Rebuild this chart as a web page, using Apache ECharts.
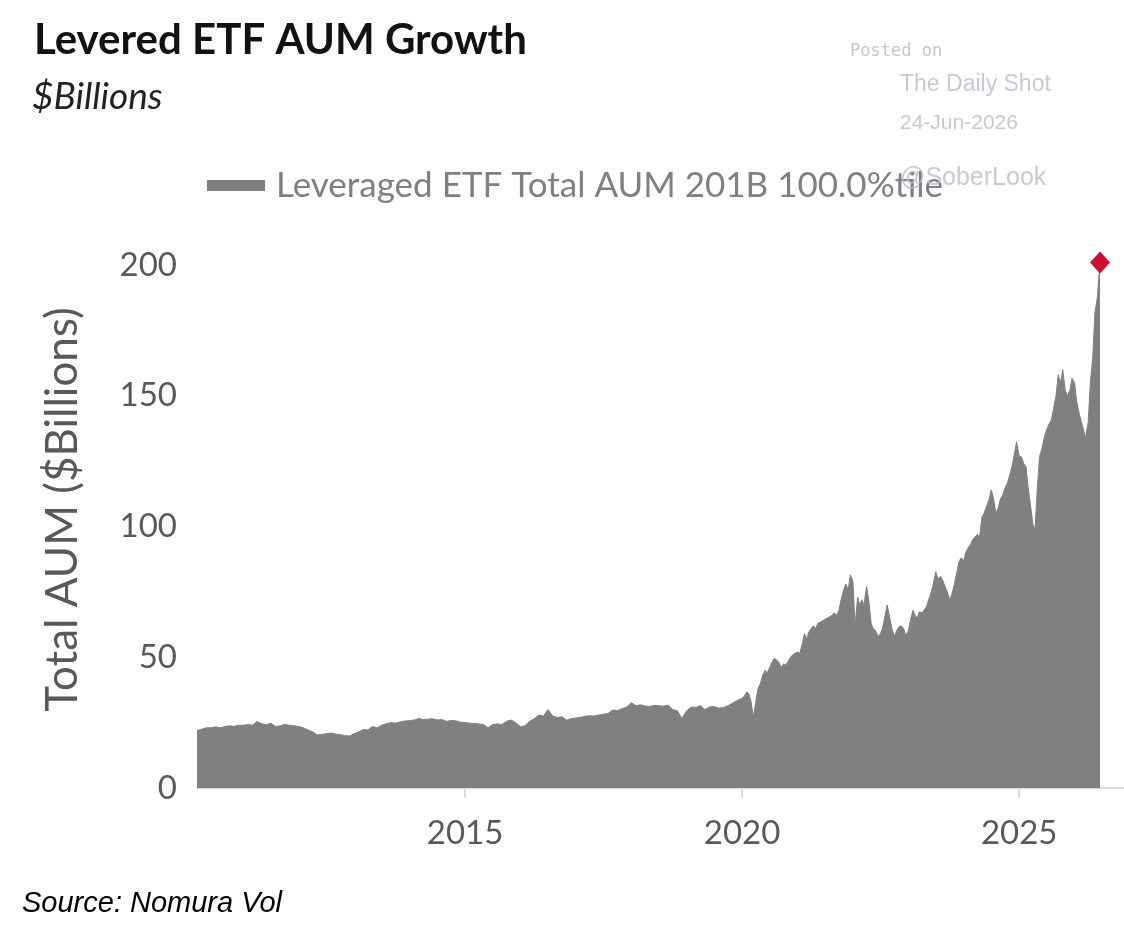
<!DOCTYPE html>
<html>
<head>
<meta charset="utf-8">
<script src="https://cdn.jsdelivr.net/npm/echarts@6/dist/echarts.min.js"></script>
<style>
  html, body { margin: 0; padding: 0; background: #fff; }
  #chart { width: 1124px; height: 936px; }
</style>
</head>
<body>
<div id="chart"></div>
<script>
// monthly 2010-2019, then twice a month from 2020
const dates = [
  '2010-03-01','2010-04-01','2010-05-01','2010-06-01','2010-07-01','2010-08-01','2010-09-01','2010-10-01','2010-11-01','2010-12-01',
  '2011-01-01','2011-02-01','2011-03-01','2011-04-01','2011-05-01','2011-06-01','2011-07-01','2011-08-01','2011-09-01','2011-10-01','2011-11-01','2011-12-01',
  '2012-01-01','2012-02-01','2012-03-01','2012-04-01','2012-05-01','2012-06-01','2012-07-01','2012-08-01','2012-09-01','2012-10-01','2012-11-01','2012-12-01',
  '2013-01-01','2013-02-01','2013-03-01','2013-04-01','2013-05-01','2013-06-01','2013-07-01','2013-08-01','2013-09-01','2013-10-01','2013-11-01','2013-12-01',
  '2014-01-01','2014-02-01','2014-03-01','2014-04-01','2014-05-01','2014-06-01','2014-07-01','2014-08-01','2014-09-01','2014-10-01','2014-11-01','2014-12-01',
  '2015-01-01','2015-02-01','2015-03-01','2015-04-01','2015-05-01','2015-06-01','2015-07-01','2015-08-01','2015-09-01','2015-10-01','2015-11-01','2015-12-01',
  '2016-01-01','2016-02-01','2016-03-01','2016-04-01','2016-05-01','2016-06-01','2016-07-01','2016-08-01','2016-09-01','2016-10-01','2016-11-01','2016-12-01',
  '2017-01-01','2017-02-01','2017-03-01','2017-04-01','2017-05-01','2017-06-01','2017-07-01','2017-08-01','2017-09-01','2017-10-01','2017-11-01','2017-12-01',
  '2018-01-01','2018-02-01','2018-03-01','2018-04-01','2018-05-01','2018-06-01','2018-07-01','2018-08-01','2018-09-01','2018-10-01','2018-11-01','2018-12-01',
  '2019-01-01','2019-02-01','2019-03-01','2019-04-01','2019-05-01','2019-06-01','2019-07-01','2019-08-01','2019-09-01','2019-10-01','2019-11-01','2019-12-01',
  '2020-01-01','2020-01-15','2020-02-01','2020-02-15','2020-03-01','2020-03-15','2020-04-01','2020-04-15','2020-05-01','2020-05-15','2020-06-01','2020-06-15',
  '2020-07-01','2020-07-15','2020-08-01','2020-08-15','2020-09-01','2020-09-15','2020-10-01','2020-10-15','2020-11-01','2020-11-15','2020-12-01','2020-12-15',
  '2021-01-01','2021-01-15','2021-02-01','2021-02-15','2021-03-01','2021-03-15','2021-04-01','2021-04-15','2021-05-01','2021-05-15','2021-06-01','2021-06-15',
  '2021-07-01','2021-07-15','2021-08-01','2021-08-15','2021-09-01','2021-09-15','2021-10-01','2021-10-15','2021-11-01','2021-11-15','2021-12-01','2021-12-15',
  '2022-01-01','2022-01-15','2022-02-01','2022-02-15','2022-03-01','2022-03-15','2022-04-01','2022-04-15','2022-05-01','2022-05-15','2022-06-01','2022-06-15',
  '2022-07-01','2022-07-15','2022-08-01','2022-08-15','2022-09-01','2022-09-15','2022-10-01','2022-10-15','2022-11-01','2022-11-15','2022-12-01','2022-12-15',
  '2023-01-01','2023-01-15','2023-02-01','2023-02-15','2023-03-01','2023-03-15','2023-04-01','2023-04-15','2023-05-01','2023-05-15','2023-06-01','2023-06-15',
  '2023-07-01','2023-07-15','2023-08-01','2023-08-15','2023-09-01','2023-09-15','2023-10-01','2023-10-15','2023-11-01','2023-11-15','2023-12-01','2023-12-15',
  '2024-01-01','2024-01-15','2024-02-01','2024-02-15','2024-03-01','2024-03-15','2024-04-01','2024-04-15','2024-05-01','2024-05-15','2024-06-01','2024-06-15',
  '2024-07-01','2024-07-15','2024-08-01','2024-08-15','2024-09-01','2024-09-15','2024-10-01','2024-10-15','2024-11-01','2024-11-15','2024-12-01','2024-12-15',
  '2025-01-01','2025-01-15','2025-02-01','2025-02-15','2025-03-01','2025-03-15','2025-04-01','2025-04-15','2025-05-01','2025-05-15','2025-06-01','2025-06-15',
  '2025-07-01','2025-07-15','2025-08-01','2025-08-15','2025-09-01','2025-09-15','2025-10-01','2025-10-15','2025-11-01','2025-11-15','2025-12-01','2025-12-15',
  '2026-01-01','2026-01-15','2026-02-01','2026-02-15','2026-03-01','2026-03-15','2026-04-01','2026-04-15','2026-05-01','2026-05-15','2026-06-01','2026-06-10',
  '2026-06-18'
];

const aum = [
  22, 22.5, 23, 23, 23.4, 23, 23.5, 23.8, 23.6, 24,
  24, 24.3, 24, 25.4, 24.6, 24.2, 24.8, 23.5, 23.8, 24.3, 24, 23.8,
  23.5, 23, 22.2, 21.5, 20.3, 20.5, 20.8, 21, 20.6, 20.4, 20, 19.9,
  20.8, 21.5, 22.4, 22.2, 23.5, 23, 24, 24.6, 25, 24.8, 25.3, 25.6,
  25.8, 26, 26.6, 26.2, 26.3, 26.5, 26, 26.2, 25.5, 25.8, 25.7, 25.2,
  25, 24.8, 24.7, 24.5, 24.3, 23, 24.2, 24.5, 24.3, 25.5, 26, 25,
  23.4, 23.8, 25.5, 26.5, 27.9, 27.5, 30, 27.5, 27, 27.2, 26, 26.5,
  26.8, 27, 27.4, 27.6, 27.5, 27.9, 28.2, 28.5, 29.8, 29.6, 30.3, 31,
  32.6, 31.5, 31.8, 31.4, 31.2, 31.6, 31.5, 31.3, 31.7, 30, 29.5, 26.6,
  29.5, 31, 30.8, 31.5, 30, 31, 31.2, 30.5, 30.8, 31.5, 32.5, 33.5,
  34.3, 35, 36.8, 36, 33, 27, 33, 38, 40, 43, 45, 44,
  46, 48, 49.6, 49, 48, 46, 47.5, 47, 48.5, 50, 51, 51.5,
  52, 51.5, 55, 59, 57, 59.5, 61, 62, 61, 63, 63.5, 64,
  64.5, 65, 65.5, 66, 67, 66, 68, 72, 75.7, 78, 76, 81.5,
  79, 62, 73, 70, 72, 70, 77, 72, 63, 61, 60, 58,
  59, 61, 66, 70, 65, 61, 58, 60, 61.7, 62, 61, 58.5,
  60, 64, 68, 66, 65, 67.4, 67, 68, 69.3, 72, 75, 78,
  82.7, 80, 81, 79.5, 77, 75, 72, 74, 78, 82, 86.5, 88,
  87, 90, 92, 93, 95, 96, 97, 96, 103.7, 105, 108, 110,
  114, 111, 105, 107, 110.8, 112, 115, 116.5, 120, 122.9, 128, 132.4,
  127, 126.7, 124, 122.9, 115, 108.9, 101, 98.7, 115, 126.7, 130, 134,
  137, 139, 140.7, 145, 150, 158, 155, 160, 152, 150, 152, 156.7,
  155, 148, 143, 140, 137, 134, 140, 154.8, 165, 181.5, 188, 195.5,
  201
];

const yearTicks = ['2015-01-01', '2020-01-01', '2025-01-01'];
const yTicks = [0, 50, 100, 150, 200];

const seriesName = 'Leveraged ETF Total AUM 201B 100.0%tile';
const calibri = 'Lato, "Open Sans", sans-serif';
const arial = '"Liberation Sans", Arial, sans-serif';

const chart = echarts.init(document.getElementById('chart'));

const ts = d => Date.parse(d + 'T00:00:00Z');
const pairs = dates.map((d, i) => [ts(d), aum[i]]);
const last = pairs[pairs.length - 1];
const yearTickTs = yearTicks.map(ts);

const option = {
  backgroundColor: '#fff',
  animation: false,
  title: [
    {
      text: 'Levered ETF AUM Growth',
      left: 29, top: 14,
      textStyle: { fontFamily: calibri, fontWeight: 'bold', fontSize: 42, color: '#111' }
    },
    {
      text: '$Billions',
      left: 27, top: 74,
      textStyle: { fontFamily: calibri, fontStyle: 'italic', fontWeight: 'normal', fontSize: 37, color: '#222' }
    },
    {
      text: 'Posted on',
      left: 845, top: 38,
      textStyle: { fontFamily: '"DejaVu Sans Mono", monospace', fontWeight: 'normal', fontSize: 17, color: '#c6c6cc' }
    },
    {
      text: 'The Daily Shot',
      left: 895, top: 68,
      textStyle: { fontFamily: arial, fontWeight: 'normal', fontSize: 23, color: '#c8c8d6' }
    },
    {
      text: '24-Jun-2026',
      left: 895, top: 108,
      textStyle: { fontFamily: arial, fontWeight: 'normal', fontSize: 21, color: '#c8c8d6' }
    },
    {
      text: 'Source: Nomura Vol',
      left: 17, top: 884,
      textStyle: { fontFamily: arial, fontStyle: 'italic', fontWeight: 'normal', fontSize: 29, color: '#000' }
    }
  ],
  legend: {
    left: 202, top: 163,
    data: [seriesName],
    icon: 'rect',
    itemWidth: 58,
    itemHeight: 11,
    itemGap: 10,
    textStyle: { fontFamily: calibri, fontSize: 35, color: '#808080', padding: [0, 0, 0, 6] }
  },
  grid: { left: 197, right: 0, top: 265, bottom: 148, containLabel: false },
  xAxis: {
    type: 'value',
    min: ts('2010-03-01'),
    max: ts('2026-11-23'),
    axisLine: { show: true, lineStyle: { color: '#d9d9d9', width: 2 } },
    axisTick: {
      show: true, length: 10,
      customValues: yearTickTs,
      lineStyle: { color: '#d9d9d9', width: 2 }
    },
    axisLabel: {
      customValues: yearTickTs,
      formatter: v => String(new Date(v).getUTCFullYear()),
      margin: 29,
      fontFamily: calibri, fontSize: 33, color: '#595959'
    },
    splitLine: { show: false }
  },
  yAxis: {
    type: 'value',
    min: 0, max: 200,
    axisLine: { show: false },
    axisTick: { show: false },
    splitLine: { show: false },
    axisLabel: {
      customValues: yTicks,
      margin: 20,
      fontFamily: calibri, fontSize: 33, color: '#595959'
    },
    name: 'Total AUM ($Billions)',
    nameLocation: 'middle',
    nameGap: 112,
    nameTextStyle: { fontFamily: calibri, fontSize: 44, color: '#595959', padding: [0, 0, 0, 34] }
  },
  series: [
    {
      name: seriesName,
      type: 'line',
      data: pairs,
      showSymbol: false,
      symbol: 'none',
      lineStyle: { color: '#808080', width: 1 },
      itemStyle: { color: '#808080' },
      areaStyle: { color: '#808080', opacity: 1 },
      emphasis: { disabled: true },
      z: 2
    },
    {
      name: 'latest',
      type: 'scatter',
      data: [last],
      clip: false,
      symbol: 'diamond',
      symbolSize: [20, 22],
      itemStyle: { color: '#c8102e', opacity: 1 },
      emphasis: { disabled: true },
      z: 5
    }
  ],
  graphic: [
    {
      type: 'text',
      left: 900, top: 166,
      z: 100,
      style: {
        text: '@SoberLook',
        font: '25px "Liberation Sans", Arial, sans-serif',
        fill: 'rgba(190,190,210,0.85)'
      }
    }
  ]
};

chart.setOption(option);
window.addEventListener('resize', () => chart.resize());
</script>
</body>
</html>
